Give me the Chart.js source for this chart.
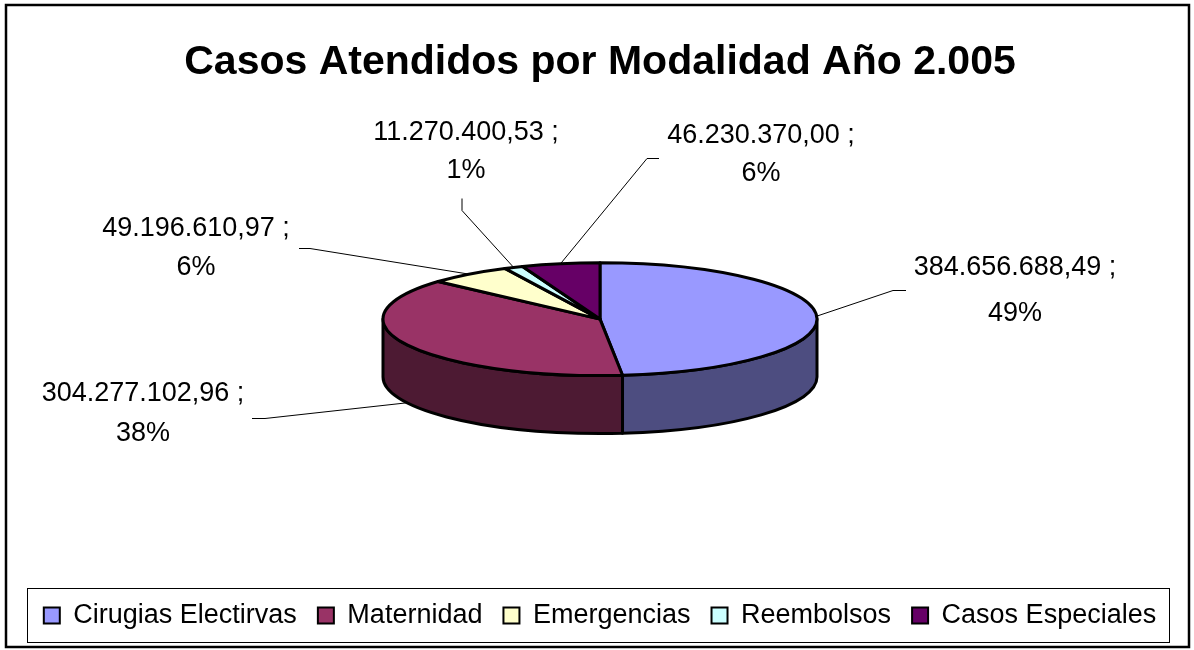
<!DOCTYPE html>
<html>
<head>
<meta charset="utf-8">
<script src="https://cdn.jsdelivr.net/npm/chart.js@4/dist/chart.umd.min.js"></script>
<style>
  html, body { margin: 0; padding: 0; background: #ffffff; }
  canvas { display: block; }
</style>
</head>
<body>
<canvas id="chart" width="1194" height="650"></canvas>
<script>
// Categories and amounts (Bs.) attended by modality, year 2005
const categories = ['Cirugias Electirvas', 'Maternidad', 'Emergencias', 'Reembolsos', 'Casos Especiales'];
const amounts = [384656688.49, 304277102.96, 49196610.97, 11270400.53, 46230370.00];
const shareLabels = ['49%', '38%', '6%', '1%', '6%'];

// Slice colours (top face); the side wall uses a darker shade
const faceColors = ['#9999FF', '#993366', '#FFFFCC', '#CCFFFF', '#660066'];

const FONT = 'Arial, "Liberation Sans", sans-serif';
const TILT = 0.26;      // vertical squash of the pie disc
const DEPTH = 58;       // thickness of the disc in pixels

// Where each data label sits and how its leader line runs to the slice
const labelLayout = [
  { x: 1015, y1: 268, y2: 314, leader: [[906, 290], [893, 290]], face: 'top' },
  { x: 143,  y1: 394, y2: 434, leader: [[252, 418], [265, 418]], face: 'bottom' },
  { x: 196,  y1: 229, y2: 268, leader: [[299, 248], [310, 248]], face: 'top' },
  { x: 466,  y1: 133, y2: 171, leader: [[462, 198], [462, 210]], face: 'top' },
  { x: 761,  y1: 136, y2: 174, leader: [[659, 158], [647, 158]], face: 'top' }
];

function formatAmount(v) {
  const parts = v.toFixed(2).split('.');
  return parts[0].replace(/\B(?=(\d{3})+(?!\d))/g, '.') + ',' + parts[1];
}

function shade(hex, f) {
  const n = parseInt(hex.slice(1), 16);
  const r = Math.round(((n >> 16) & 255) * f);
  const g = Math.round(((n >> 8) & 255) * f);
  const b = Math.round((n & 255) * f);
  return 'rgb(' + r + ',' + g + ',' + b + ')';
}

// Draws the pie as a tilted disc using the arc angles computed by Chart.js
const pie3d = {
  id: 'pie3d',
  beforeDatasetsDraw(chart) {
    const ctx = chart.ctx;
    const arcs = chart.getDatasetMeta(0).data;
    if (!arcs.length) return false;
    const cx = arcs[0].x;
    const rx = arcs[0].outerRadius;
    const ry = rx * TILT;
    const cy = arcs[0].y - DEPTH / 2;

    ctx.save();
    ctx.lineJoin = 'round';
    ctx.lineWidth = 3;
    ctx.strokeStyle = '#000';

    // side walls (only the front half of the disc is visible)
    arcs.forEach((arc, i) => {
      const a = Math.max(arc.startAngle, 0);
      const b = Math.min(arc.endAngle, Math.PI);
      if (b <= a) return;
      ctx.beginPath();
      ctx.ellipse(cx, cy, rx, ry, 0, a, b, false);
      ctx.lineTo(cx + rx * Math.cos(b), cy + ry * Math.sin(b) + DEPTH);
      ctx.ellipse(cx, cy + DEPTH, rx, ry, 0, b, a, true);
      ctx.closePath();
      ctx.fillStyle = shade(faceColors[i], 0.5);
      ctx.fill();
      ctx.stroke();
    });

    // top faces
    arcs.forEach((arc, i) => {
      ctx.beginPath();
      ctx.moveTo(cx, cy);
      ctx.ellipse(cx, cy, rx, ry, 0, arc.startAngle, arc.endAngle, false);
      ctx.closePath();
      ctx.fillStyle = faceColors[i];
      ctx.fill();
      ctx.stroke();
    });

    // data labels with leader lines
    ctx.lineWidth = 1;
    ctx.font = '27px ' + FONT;
    ctx.fillStyle = '#000';
    ctx.textAlign = 'center';
    ctx.textBaseline = 'middle';
    arcs.forEach((arc, i) => {
      const L = labelLayout[i];
      const mid = (arc.startAngle + arc.endAngle) / 2;
      const ax = cx + rx * Math.cos(mid);
      const ay = cy + ry * Math.sin(mid) + (L.face === 'bottom' ? DEPTH : 0);
      ctx.beginPath();
      ctx.moveTo(L.leader[0][0], L.leader[0][1] + 0.5);
      ctx.lineTo(L.leader[1][0], L.leader[1][1] + 0.5);
      ctx.lineTo(ax, ay);
      ctx.stroke();
      ctx.fillText(formatAmount(amounts[i]) + ' ;', L.x, L.y1);
      ctx.fillText(shareLabels[i], L.x, L.y2);
    });
    ctx.restore();
    return false;
  },
  afterDraw(chart) {
    const ctx = chart.ctx;
    ctx.save();
    // box around the legend
    const legend = chart.legend;
    if (legend && legend.legendHitBoxes && legend.legendHitBoxes.length) {
      const boxes = legend.legendHitBoxes;
      const left = Math.min(...boxes.map(b => b.left)) - 17;
      const right = Math.max(...boxes.map(b => b.left + b.width)) + 13;
      const midY = boxes[0].top + boxes[0].height / 2;
      ctx.lineWidth = 1;
      ctx.strokeStyle = '#000';
      ctx.strokeRect(Math.round(left) + 0.5, Math.round(midY - 28) + 0.5,
                     Math.round(right - left), 54);
    }
    // outer frame
    ctx.lineWidth = 2.5;
    ctx.strokeStyle = '#000';
    ctx.strokeRect(6, 5, chart.width - 11, chart.height - 8);
    ctx.restore();
  }
};

new Chart(document.getElementById('chart'), {
  type: 'pie',
  data: {
    labels: categories,
    datasets: [{
      data: amounts,
      backgroundColor: faceColors,
      borderWidth: 0
    }]
  },
  options: {
    responsive: false,
    animation: false,
    events: [],
    radius: 217,
    layout: { padding: { left: 6, right: 0, top: 0, bottom: 11 } },
    plugins: {
      tooltip: { enabled: false },
      title: {
        display: true,
        text: 'Casos Atendidos por Modalidad Año 2.005',
        color: '#000',
        font: { family: FONT, size: 41, weight: 'bold' },
        padding: { top: 38, bottom: 28 }
      },
      legend: {
        display: true,
        position: 'bottom',
        labels: {
          color: '#000',
          font: { family: FONT, size: 27 },
          boxWidth: 16,
          boxHeight: 16,
          padding: 21,
          generateLabels(chart) {
            return chart.data.labels.map((text, i) => ({
              text: text,
              fillStyle: faceColors[i],
              strokeStyle: '#000',
              lineWidth: 2,
              fontColor: '#000',
              hidden: false,
              index: i
            }));
          }
        }
      }
    }
  },
  plugins: [pie3d]
});
</script>
</body>
</html>
